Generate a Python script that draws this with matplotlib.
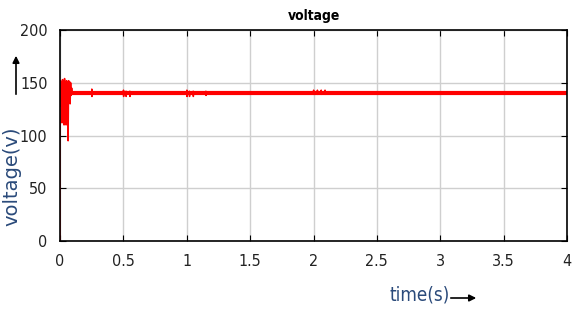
import matplotlib
matplotlib.use("Agg")
import matplotlib.pyplot as plt

# data
time_s = [0.0, 0.0, 0.004, 0.008, 0.012, 0.016, 0.020, 0.024, 0.028, 0.032, 0.036, 0.040,
          0.044, 0.048, 0.052, 0.056, 0.060, 0.064, 0.068, 0.072, 0.076, 0.080, 0.084,
          0.088, 0.092, 0.096, 0.100,
          0.25, 0.251, 0.252, 0.253,
          0.50, 0.501, 0.502, 0.503, 0.52, 0.521, 0.522, 0.523, 0.55, 0.551, 0.552, 0.553,
          1.00, 1.001, 1.002, 1.003, 1.02, 1.021, 1.022, 1.023, 1.05, 1.051, 1.052, 1.053,
          1.15, 1.151, 1.152, 1.153,
          2.00, 2.001, 2.002, 2.003, 2.03, 2.031, 2.032, 2.033, 2.06, 2.061, 2.062, 2.063,
          2.09, 2.091, 2.092, 2.093,
          4.0]
voltage_v = [0, 140, 152, 128, 150, 112, 153, 120, 148, 110, 154, 115, 150, 110, 152, 125, 150, 95,
             152, 138, 151, 130, 150, 138, 145, 140, 140,
             140, 144, 137, 140,
             140, 143, 137, 140, 140, 142, 137, 140, 140, 142, 137, 140,
             140, 143, 137, 140, 140, 142, 137, 140, 140, 142, 137, 140,
             140, 142, 138, 140,
             140, 143, 139, 140, 140, 143, 139, 140, 140, 143, 139, 140,
             140, 143, 139, 140,
             140]
steady_t = [0.0, 4.0]
steady_v = [140, 140]
x_ticks = [0, 0.5, 1, 1.5, 2, 2.5, 3, 3.5, 4]
x_tick_labels = ["0", "0.5", "1", "1.5", "2", "2.5", "3", "3.5", "4"]
y_ticks = [0, 50, 100, 150, 200]

fig = plt.figure(figsize=(5.73, 3.11), dpi=100)
ax = fig.add_axes([60/573, 1-241/311, 507/573, 211/311])
ax.plot(time_s, voltage_v, color="red", lw=1.1)
ax.plot(steady_t, steady_v, color="red", lw=3.0)
ax.set_xlim(0, 4)
ax.set_ylim(0, 200)
ax.set_xticks(x_ticks)
ax.set_xticklabels(x_tick_labels)
ax.set_yticks(y_ticks)
ax.grid(True, color="#cfcfcf", lw=1)
ax.tick_params(direction="in", top=True, right=True, length=4, color="black",
               labelsize=11.5, labelcolor="#222222", pad=9)
for lab in ax.get_xticklabels() + ax.get_yticklabels():
    lab.set_fontstretch("condensed")
for s in ax.spines.values():
    s.set_linewidth(1.2)
ax.set_title("voltage", fontsize=10, fontweight="bold", fontstretch="condensed", pad=7)

fig.text(12/573, 1-176/311, "voltage(v)", rotation=90, ha="center", va="center",
         fontsize=14, color="#2a4a7a")
fig.text(420/573, 1-295/311, "time(s)", ha="center", va="center",
         fontsize=13.5, color="#2a4a7a", fontstretch="condensed")
fig.patches.append(matplotlib.patches.FancyArrowPatch(
    (16/573, 1-97/311), (16/573, 1-53/311), transform=fig.transFigure,
    arrowstyle="-|>", mutation_scale=10, color="black", lw=1.2))
fig.patches.append(matplotlib.patches.FancyArrowPatch(
    (448/573, 1-298/311), (479/573, 1-298/311), transform=fig.transFigure,
    arrowstyle="-|>", mutation_scale=10, color="black", lw=1.2))

fig.savefig("out.png", dpi=100)
